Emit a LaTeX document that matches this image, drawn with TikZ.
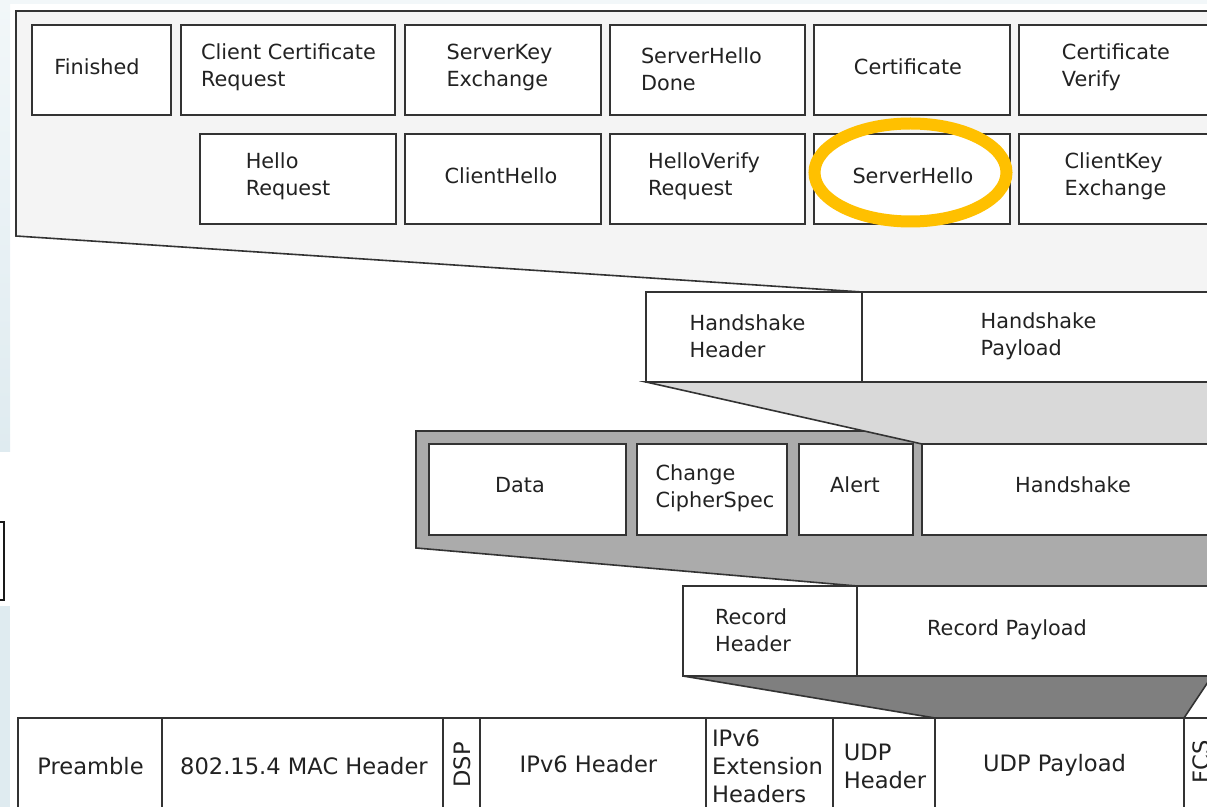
\documentclass[tikz,border=0pt]{standalone}
\usepackage{fontspec}
\setmainfont{DejaVu Sans}
\usetikzlibrary{fit}

\definecolor{inkline}{HTML}{333333}
\definecolor{inktext}{HTML}{222222}
\definecolor{panelA}{HTML}{F4F4F4}
\definecolor{panelB}{HTML}{D9D9D9}
\definecolor{panelC}{HTML}{ABABAB}
\definecolor{panelD}{HTML}{7F7F7F}
\definecolor{ring}{HTML}{FFC000}
\definecolor{edgeblueA}{HTML}{F2F7F9}
\definecolor{edgeblueB}{HTML}{DFEBF0}

\tikzset{
  cellbox/.style={draw=inkline, line width=0.75pt, fill=white, inner sep=0pt, rectangle},
  lbl/.style={text=inktext, font=\fontsize{10.4pt}{13.5pt}\selectfont, align=left, inner sep=0pt},
  framelbl/.style={lbl, font=\fontsize{11.3pt}{14pt}\selectfont},
  panel/.style={draw=inkline, line width=0.8pt, line join=miter}
}

% a framed field: name, x1, y1, x2, y2
\newcommand\field[5]{\node[cellbox, fit={(#2,#3) (#4,#5)}] (#1) {};}

\begin{document}
\begin{tikzpicture}[x=0.5pt,y=-0.5pt]
\useasboundingbox (0,0) rectangle (1207,807);
\clip (0,0) rectangle (1207,807);

% window edge at the left
\fill[edgeblueA] (0,0) rectangle (1207,4);
\shade[top color=edgeblueA, bottom color=edgeblueB] (0,0) rectangle (10,452);
\fill[edgeblueB] (0,606) rectangle (10,807);
\draw[black!90, line width=1.1pt] (-5,522) -- (4,522) -- (4,600) -- (-5,600);

% handshake message types panel
\draw[panel, fill=panelA] (16,11) -- (1240,11) -- (1240,292) -- (862,292) -- (16,236) -- cycle;
% record content types panel
\draw[panel, fill=panelC] (416,431) -- (1240,431) -- (1240,586) -- (857,586) -- (416,548) -- cycle;
% expansion of the handshake payload
\draw[panel, fill=panelB] (646,382) -- (1240,382) -- (1240,444) -- (922,444) -- cycle;
% expansion of the UDP payload
\draw[panel, fill=panelD] (683,676) -- (1212,676) -- (1184,718) -- (935,718) -- cycle;

% handshake message types, first row
\field{fin}{32}{25}{171}{115}
\field{ccr}{181}{25}{395}{115}
\field{ske}{405}{25}{601}{115}
\field{shd}{610}{25}{805}{115}
\field{cert}{814}{25}{1010}{115}
\field{cv}{1019}{25}{1240}{115}
\node[lbl] (fin-t)  at (97,67)    {Finished};
\node[lbl] (ccr-t)  at (288.5,67) {Client Certificate\\Request};
\node[lbl] (ske-t)  at (499.5,67) {ServerKey\\Exchange};
\node[lbl] (shd-t)  at (701.5,69) {ServerHello\\Done};
\node[lbl] (cert-t) at (908,67)   {Certificate};
\node[lbl] (cv-t)   at (1116,67)  {Certificate\\Verify};

% handshake message types, second row
\field{hr}{200}{134}{396}{224}
\field{ch}{405}{134}{601}{224}
\field{hvr}{610}{134}{805}{224}
\field{sh}{814}{134}{1010}{224}
\field{cke}{1019}{134}{1240}{224}
\node[lbl] (hr-t)  at (288,176)    {Hello\\Request};
\node[lbl] (ch-t)  at (501,176)    {ClientHello};
\node[lbl] (hvr-t) at (704,176)    {HelloVerify\\Request};
\node[lbl] (sh-t)  at (913,176)    {ServerHello};
\node[lbl] (cke-t) at (1115.5,176) {ClientKey\\Exchange};

% highlight ring
\draw[ring, line width=6pt] (910.5,172.5) ellipse [x radius=48pt, y radius=24.5pt];

% handshake header and payload
\field{hsh}{646}{292}{862}{382}
\field{hsp}{862}{292}{1240}{382}
\node[lbl] (hsh-t) at (747.5,336)  {Handshake\\Header};
\node[lbl] (hsp-t) at (1038.5,336) {Handshake\\Payload};

% record content types
\field{data}{429}{444}{626}{535}
\field{ccs}{637}{444}{787}{535}
\field{alert}{799}{444}{913}{535}
\field{hs}{922}{444}{1240}{535}
\node[lbl] (data-t)  at (520,485)  {Data};
\node[lbl] (ccs-t)   at (715,488)  {Change\\CipherSpec};
\node[lbl] (alert-t) at (855,485)  {Alert};
\node[lbl] (hs-t)    at (1073,485) {Handshake};

% record header and payload
\field{rh}{683}{586}{857}{676}
\field{rp}{857}{586}{1240}{676}
\node[lbl] (rh-t) at (753,630)  {Record\\Header};
\node[lbl] (rp-t) at (1007,630) {Record Payload};

% 802.15.4 frame
\field{pre}{18}{718}{162}{840}
\field{mac}{162}{718}{443}{840}
\field{dsp}{443}{718}{480}{840}
\field{ip6}{480}{718}{706}{840}
\field{ext}{706}{718}{833}{840}
\field{udph}{833}{718}{935}{840}
\field{udpp}{935}{718}{1184}{840}
\field{fcs}{1184}{718}{1240}{840}
\node[framelbl] (pre-t)  at (90.5,766)  {Preamble};
\node[framelbl] (mac-t)  at (304,766)   {802.15.4 MAC Header};
\node[framelbl, rotate=90] (dsp-t) at (462,765) {DSP};
\node[framelbl] (ip6-t)  at (588.5,764) {IPv6 Header};
\node[framelbl] (ext-t)  at (767.5,766) {IPv6\\Extension\\Headers};
\node[framelbl] (udph-t) at (885,766)   {UDP\\Header};
\node[framelbl] (udpp-t) at (1054.5,765) {UDP Payload};
\node[framelbl, rotate=90] (fcs-t) at (1201,762) {FCS};
\end{tikzpicture}
\end{document}
